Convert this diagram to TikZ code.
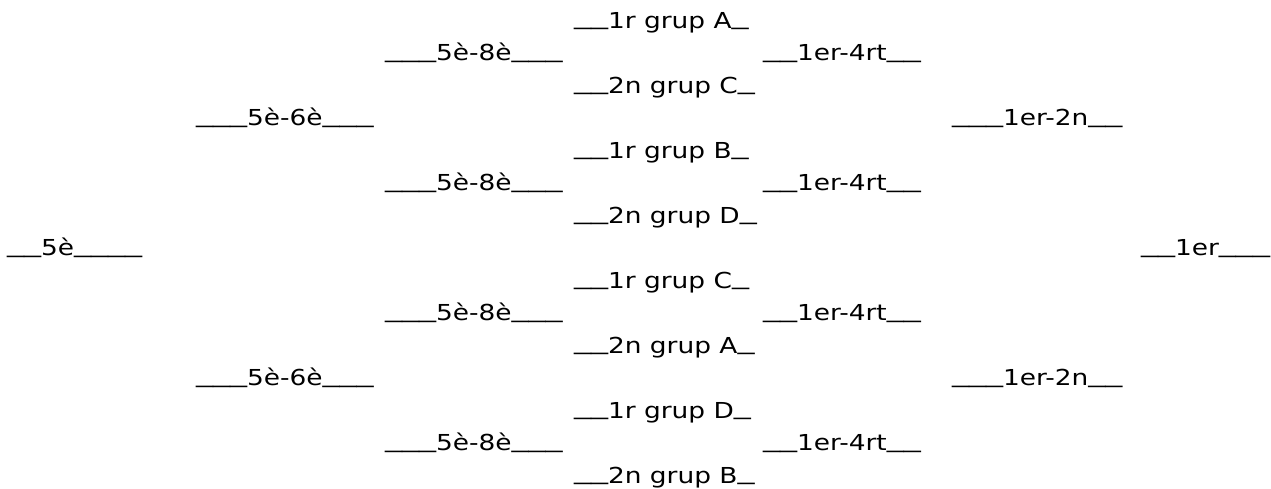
\documentclass[tikz,border=0pt]{standalone}
\usepackage{fontspec}
\setmainfont{DejaVu Sans}[FakeStretch=1.2]
\usepackage{graphicx}
\newcommand\usc{\raisebox{0.14em}{\scalebox{1.29}[1]{\_}}}
\tikzset{lbl/.style={anchor=base west, inner sep=0pt, outer sep=0pt, text=black, font=\fontsize{22}{26}\selectfont}}
\begin{document}
\begin{tikzpicture}[x=1pt,y=-1pt]
\useasboundingbox (0,0) rectangle (1271,488);
\def\cA{7}\def\cB{196}\def\cC{385}\def\cD{574}\def\cE{763}\def\cF{952}\def\cG{1141}
% column 3: groups
\node[lbl] (g1) at (\cD,28) {\usc\usc1r grup A\usc};
\node[lbl] (g2) at (\cD,93) {\usc\usc2n grup C\usc};
\node[lbl] (g3) at (\cD,158) {\usc\usc1r grup B\usc};
\node[lbl] (g4) at (\cD,223) {\usc\usc2n grup D\usc};
\node[lbl] (g5) at (\cD,288) {\usc\usc1r grup C\usc};
\node[lbl] (g6) at (\cD,353) {\usc\usc2n grup A\usc};
\node[lbl] (g7) at (\cD,418) {\usc\usc1r grup D\usc};
\node[lbl] (g8) at (\cD,483) {\usc\usc2n grup B\usc};
% 5e-8e
\node[lbl] (q1) at (\cC,60.5) {\usc\usc\usc5è-8è\usc\usc\usc};
\node[lbl] (q2) at (\cC,190.5) {\usc\usc\usc5è-8è\usc\usc\usc};
\node[lbl] (q3) at (\cC,320.5) {\usc\usc\usc5è-8è\usc\usc\usc};
\node[lbl] (q4) at (\cC,450.5) {\usc\usc\usc5è-8è\usc\usc\usc};
% 1er-4rt
\node[lbl] (w1) at (\cE,60.5) {\usc\usc1er-4rt\usc\usc};
\node[lbl] (w2) at (\cE,190.5) {\usc\usc1er-4rt\usc\usc};
\node[lbl] (w3) at (\cE,320.5) {\usc\usc1er-4rt\usc\usc};
\node[lbl] (w4) at (\cE,450.5) {\usc\usc1er-4rt\usc\usc};
% 5e-6e and 1er-2n
\node[lbl] (s1) at (\cB,125.5) {\usc\usc\usc5è-6è\usc\usc\usc};
\node[lbl] (s2) at (\cB,385.5) {\usc\usc\usc5è-6è\usc\usc\usc};
\node[lbl] (f1) at (\cF,125.5) {\usc\usc\usc1er-2n\usc\usc};
\node[lbl] (f2) at (\cF,385.5) {\usc\usc\usc1er-2n\usc\usc};
% 5e and 1er
\node[lbl] (l5) at (\cA,255.5) {\usc\usc5è\usc\usc\usc\usc};
\node[lbl] (r1) at (\cG,255.5) {\usc\usc1er\usc\usc\usc};
\end{tikzpicture}
\end{document}
